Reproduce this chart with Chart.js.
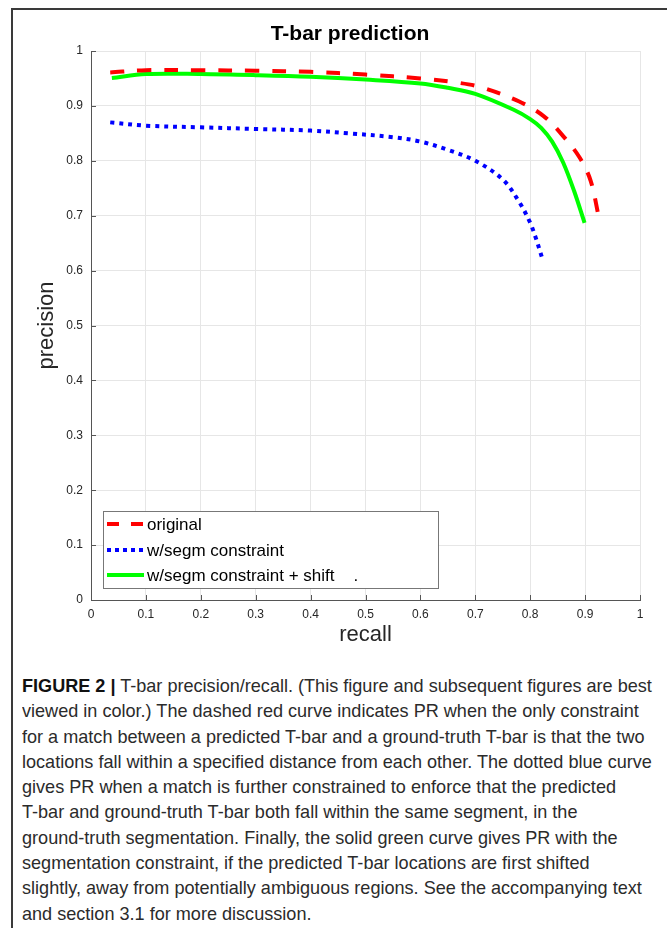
<!DOCTYPE html>
<html>
<head>
<meta charset="utf-8">
<script src="https://cdn.jsdelivr.net/npm/chart.js@4.4.1/dist/chart.umd.min.js"></script>
<style>
  html, body { margin: 0; padding: 0; background: #fff; overflow: hidden; width: 667px; height: 928px; }
  #frame { position: absolute; left: 11px; top: 8px; width: 700px; height: 960px; border-left: 2px solid #3a3a3a; border-top: 2px solid #3a3a3a; }
  #wrap { position: absolute; left: 0; top: 0; width: 667px; height: 650px; }
  #caption { position: absolute; left: 22px; top: 673px; font-family: "Liberation Sans", Arial, sans-serif; font-size: 19px; color: #2b2b2b; line-height: 25.3px; }
  #caption div { white-space: nowrap; transform-origin: 0 50%; }
  #caption b { font-weight: bold; color: #111; }
</style>
</head>
<body>
<div id="frame"></div>
<div id="wrap"><canvas id="c" width="667" height="650"></canvas></div>
<div id="caption">
  <div><b>FIGURE 2 |</b> T-bar precision/recall. (This figure and subsequent figures are best</div>
  <div>viewed in color.) The dashed red curve indicates PR when the only constraint</div>
  <div>for a match between a predicted T-bar and a ground-truth T-bar is that the two</div>
  <div>locations fall within a specified distance from each other. The dotted blue curve</div>
  <div>gives PR when a match is further constrained to enforce that the predicted</div>
  <div>T-bar and ground-truth T-bar both fall within the same segment, in the</div>
  <div>ground-truth segmentation. Finally, the solid green curve gives PR with the</div>
  <div>segmentation constraint, if the predicted T-bar locations are first shifted</div>
  <div>slightly, away from potentially ambiguous regions. See the accompanying text</div>
  <div>and section 3.1 for more discussion.</div>
</div>
<script>
// ---- data ----
const seriesLabels = ["original", "w/segm constraint", "w/segm constraint + shift    ."];

const originalRecall    = [0.035, 0.10, 0.20, 0.30, 0.40, 0.50, 0.60, 0.67, 0.71, 0.78, 0.825, 0.86, 0.89, 0.91, 0.925];
const originalPrecision = [0.961, 0.965, 0.965, 0.964, 0.962, 0.957, 0.950, 0.942, 0.934, 0.908, 0.881, 0.845, 0.806, 0.764, 0.697];

const segmRecall    = [0.035, 0.10, 0.20, 0.30, 0.40, 0.47, 0.55, 0.60, 0.65, 0.70, 0.75, 0.78, 0.80, 0.81, 0.822];
const segmPrecision = [0.870, 0.864, 0.861, 0.858, 0.855, 0.850, 0.843, 0.835, 0.820, 0.800, 0.766, 0.725, 0.687, 0.660, 0.622];

const shiftRecall    = [0.038, 0.10, 0.20, 0.30, 0.40, 0.50, 0.60, 0.65, 0.70, 0.77, 0.80, 0.82, 0.84, 0.86, 0.88, 0.899];
const shiftPrecision = [0.951, 0.958, 0.958, 0.956, 0.953, 0.948, 0.941, 0.933, 0.922, 0.893, 0.876, 0.860, 0.835, 0.797, 0.745, 0.687];

const xTicks = [0, 0.1, 0.2, 0.3, 0.4, 0.5, 0.6, 0.7, 0.8, 0.9, 1];
const yTicks = [0, 0.1, 0.2, 0.3, 0.4, 0.5, 0.6, 0.7, 0.8, 0.9, 1];
const chartTitle = "T-bar prediction";
const xTitle = "recall";
const yTitle = "precision";

function pts(xs, ys) { return xs.map((x, i) => ({ x: x, y: ys[i] })); }
function tickLabel(v) { return String(Math.round(v * 10) / 10); }

const FONT = "'Liberation Sans', Arial, Helvetica, sans-serif";

const extras = {
  id: 'extras',
  afterDraw(chart) {
    const ctx = chart.ctx, a = chart.chartArea;
    const xs = chart.scales.x, ys = chart.scales.y;
    ctx.save();
    // inward tick marks
    ctx.strokeStyle = '#555';
    ctx.lineWidth = 1;
    ctx.beginPath();
    xTicks.forEach(v => { const px = Math.round(xs.getPixelForValue(v)) + 0.5; ctx.moveTo(px, a.bottom); ctx.lineTo(px, a.bottom - 5); });
    yTicks.forEach(v => { const py = Math.round(ys.getPixelForValue(v)) + 0.5; ctx.moveTo(a.left, py); ctx.lineTo(a.left + 5, py); });
    ctx.stroke();
    // title
    ctx.fillStyle = '#000';
    ctx.font = "bold 21px " + FONT;
    ctx.textAlign = 'center';
    ctx.textBaseline = 'middle';
    ctx.fillText(chartTitle, 350, 34);
    // legend box inside the plot
    const bx = 103, by = 511, bw = 335, bh = 77;
    ctx.fillStyle = '#fff';
    ctx.fillRect(bx, by, bw, bh);
    ctx.strokeStyle = '#777';
    ctx.lineWidth = 1;
    ctx.strokeRect(bx + 0.5, by + 0.5, bw, bh);
    const rows = [524, 550, 575];
    chart.data.datasets.forEach((ds, i) => {
      const y = rows[i];
      ctx.strokeStyle = ds.borderColor;
      ctx.lineWidth = ds.borderWidth;
      ctx.setLineDash(i === 0 ? [12, 12] : (i === 1 ? [4, 4] : []));
      ctx.lineCap = 'butt';
      ctx.beginPath();
      ctx.moveTo(107, y); ctx.lineTo(144, y);
      ctx.stroke();
      ctx.setLineDash([]);
      ctx.fillStyle = '#000';
      ctx.font = "17px " + FONT;
      ctx.textAlign = 'left';
      ctx.textBaseline = 'middle';
      ctx.fillText(ds.label, 147, y + 1);
    });
    ctx.restore();
  }
};

const lineCommon = { showLine: true, borderWidth: 4, pointRadius: 0, tension: 0.35, fill: false };

new Chart(document.getElementById('c'), {
  type: 'scatter',
  data: {
    datasets: [
      Object.assign({ label: seriesLabels[0], data: pts(originalRecall, originalPrecision), borderColor: '#ff0000', borderDash: [14, 13] }, lineCommon),
      Object.assign({ label: seriesLabels[1], data: pts(segmRecall, segmPrecision), borderColor: '#0000ff', borderDash: [4, 5] }, lineCommon),
      Object.assign({ label: seriesLabels[2], data: pts(shiftRecall, shiftPrecision), borderColor: '#00ff00' }, lineCommon)
    ]
  },
  options: {
    responsive: false,
    animation: false,
    devicePixelRatio: 1,
    layout: { padding: { left: 0, right: 27, top: 51, bottom: 0 } },
    plugins: { legend: { display: false }, title: { display: false }, tooltip: { enabled: false } },
    scales: {
      x: {
        type: 'linear', min: 0, max: 1,
        afterBuildTicks: s => { s.ticks = xTicks.map(v => ({ value: v })); },
        afterFit: s => { s.height = 50; },
        grid: { color: '#e6e6e6', drawTicks: false },
        border: { color: '#555', width: 1 },
        ticks: { padding: 7, color: '#262626', font: { family: FONT, size: 12 }, callback: v => tickLabel(v), maxRotation: 0 },
        title: { display: true, text: xTitle, color: '#262626', font: { family: FONT, size: 22 }, padding: { top: 0, bottom: 2 } }
      },
      y: {
        type: 'linear', min: 0, max: 1,
        afterBuildTicks: s => { s.ticks = yTicks.map(v => ({ value: v })); },
        afterFit: s => { s.width = 91; },
        grid: { color: '#e6e6e6', drawTicks: false },
        border: { color: '#555', width: 1 },
        ticks: { padding: 8, color: '#262626', font: { family: FONT, size: 12 }, callback: v => tickLabel(v) },
        title: { display: true, text: yTitle, color: '#262626', font: { family: FONT, size: 22 }, padding: { top: 34, bottom: 0 } }
      }
    }
  },
  plugins: [extras]
});

// condense caption lines to match the narrow typeface of the reference (first line spans ~630px)
(function () {
  const lines = document.querySelectorAll('#caption div');
  const w = lines[0].scrollWidth;
  const k = 630 / w;
  lines.forEach(l => { l.style.transform = 'scaleX(' + k + ')'; });
})();
</script>
</body>
</html>
